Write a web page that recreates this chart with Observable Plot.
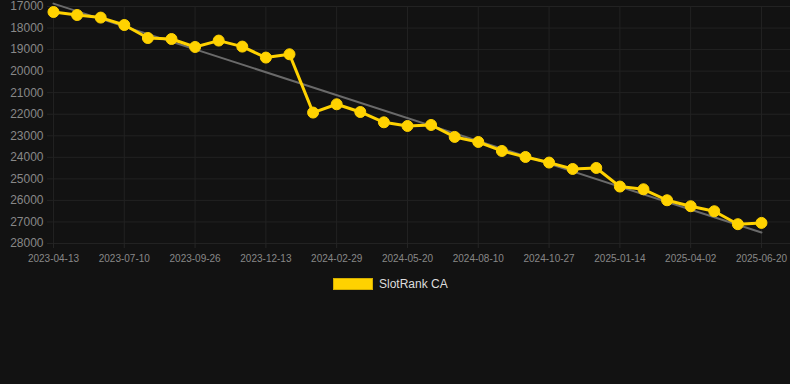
<!DOCTYPE html>
<html>
<head>
<meta charset="utf-8">
<script src="https://cdn.jsdelivr.net/npm/d3@7"></script>
<script src="https://cdn.jsdelivr.net/npm/@observablehq/plot@0.6"></script>
<style>
  html, body { margin: 0; padding: 0; background: #121212; }
  body { width: 790px; height: 384px; overflow: hidden; font-family: "Liberation Sans", Arial, Helvetica, sans-serif; }
  #legend { display: flex; align-items: center; margin-top: 8px; padding-left: 333px; height: 12px; }
  #legend .box { width: 38px; height: 10px; background: #FFD200; border: 1px solid #d4ae00; }
  #legend .lab { margin-left: 6px; color: #dddddd; font-size: 12px; }
</style>
</head>
<body>
<div id="chart"></div>
<div id="legend"><span class="box"></span><span class="lab">SlotRank CA</span></div>
<script>
const dates = [
  "2023-04-13","2023-05-12","2023-06-10","2023-07-10","2023-08-05","2023-08-31",
  "2023-09-26","2023-10-22","2023-11-17","2023-12-13","2024-01-08","2024-02-03",
  "2024-02-29","2024-03-27","2024-04-23","2024-05-20","2024-06-16","2024-07-14",
  "2024-08-10","2024-09-05","2024-10-01","2024-10-27","2024-11-22","2024-12-19",
  "2025-01-14","2025-02-09","2025-03-07","2025-04-02","2025-04-28","2025-05-24",
  "2025-06-20"
];
const ranks = [
  17255, 17394, 17515, 17858, 18462, 18508,
  18879, 18582, 18861, 19371, 19218, 21923,
  21538, 21896, 22374, 22545, 22499, 23053,
  23288, 23705, 23984, 24244, 24541, 24494,
  25357, 25483, 25993, 26271, 26503, 27104,
  27044
];
const yTicks = [17000, 18000, 19000, 20000, 21000, 22000, 23000, 24000, 25000, 26000, 27000, 28000];
const labelEvery = 3;
const trendDates = ["2023-04-13", "2025-06-20"];
const trendValues = [16865, 27490];

const data = ranks.map((v, i) => ({i, date: dates[i], rank: v}));
const trend = trendDates.map((d, k) => ({i: dates.indexOf(d), rank: trendValues[k]}));
const xTicks = dates.map((d, i) => i).filter(i => i % labelEvery === 0);

const chart = Plot.plot({
  width: 790,
  height: 270,
  marginLeft: 47,
  marginRight: 0,
  marginTop: 6,
  marginBottom: 27,
  style: {background: "#121212", fontFamily: "'Liberation Sans', Arial, Helvetica, sans-serif"},
  x: {type: "linear", domain: [-0.254, 31.23]},
  y: {domain: [17000, 28000], reverse: true},
  marks: [
    Plot.gridY(yTicks, {stroke: "#222222", strokeOpacity: 1}),
    Plot.gridX(xTicks, {stroke: "#222222", strokeOpacity: 1}),
    Plot.axisY(yTicks, {tickSize: 0, tickPadding: 4, fill: "#888888", fontSize: 12, tickFormat: d => String(d), label: null}),
    Plot.axisX(xTicks, {tickSize: 5, tickPadding: 6, stroke: "#262626", fill: "#888888", fontSize: 10, tickFormat: i => dates[i], label: null}),
    Plot.line(trend, {x: "i", y: "rank", stroke: "#6a6a6a", strokeWidth: 2}),
    Plot.line(data, {x: "i", y: "rank", stroke: "#FFD200", strokeWidth: 3, strokeLinejoin: "round"}),
    Plot.dot(data, {x: "i", y: "rank", r: 5.5, fill: "#FFD200", stroke: "#FFD200", strokeWidth: 1})
  ]
});
document.getElementById("chart").appendChild(chart);
</script>
</body>
</html>
